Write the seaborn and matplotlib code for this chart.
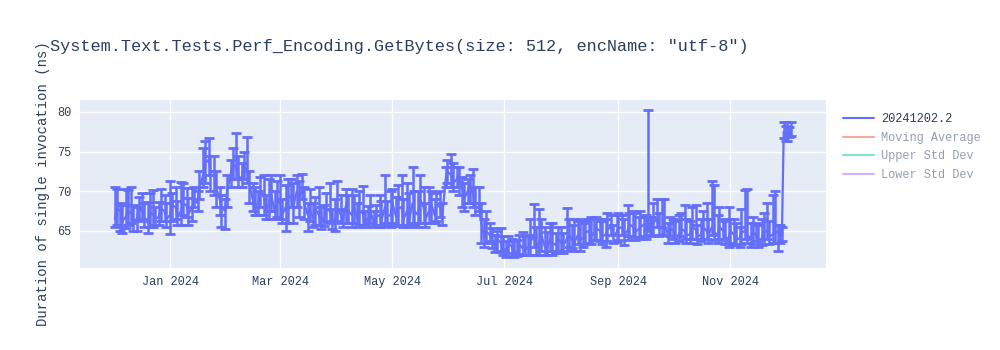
import matplotlib
matplotlib.use("Agg")
import matplotlib.pyplot as plt
import matplotlib.dates as mdates
from matplotlib.lines import Line2D
import seaborn as sns
import pandas as pd

# main readings
dates = [
    "2023-12-02", "2023-12-05", "2023-12-08", "2023-12-11", "2023-12-14", "2023-12-17",
    "2023-12-20", "2023-12-23", "2023-12-26", "2023-12-29", "2024-01-01", "2024-01-04",
    "2024-01-07", "2024-01-10", "2024-01-13", "2024-01-16", "2024-01-19", "2024-01-22",
    "2024-01-25", "2024-01-28", "2024-01-31", "2024-02-03", "2024-02-06", "2024-02-09",
    "2024-02-12", "2024-02-15", "2024-02-18", "2024-02-21", "2024-02-24", "2024-02-27",
    "2024-03-01", "2024-03-04", "2024-03-07", "2024-03-10", "2024-03-13", "2024-03-16",
    "2024-03-19", "2024-03-22", "2024-03-25", "2024-03-28", "2024-03-31", "2024-04-03",
    "2024-04-06", "2024-04-09", "2024-04-12", "2024-04-15", "2024-04-18", "2024-04-21",
    "2024-04-24", "2024-04-27", "2024-04-30", "2024-05-03", "2024-05-06", "2024-05-09",
    "2024-05-12", "2024-05-15", "2024-05-18", "2024-05-21", "2024-05-24", "2024-05-27",
    "2024-05-30", "2024-06-02", "2024-06-05", "2024-06-08", "2024-06-11", "2024-06-14",
    "2024-06-17", "2024-06-20", "2024-06-23", "2024-06-26", "2024-06-29", "2024-07-02",
    "2024-07-05", "2024-07-08", "2024-07-11", "2024-07-14", "2024-07-17", "2024-07-20",
    "2024-07-23", "2024-07-26", "2024-07-29", "2024-08-01", "2024-08-04", "2024-08-07",
    "2024-08-10", "2024-08-13", "2024-08-16", "2024-08-19", "2024-08-22", "2024-08-25",
    "2024-08-28", "2024-08-31", "2024-09-03", "2024-09-06", "2024-09-09", "2024-09-12",
    "2024-09-15", "2024-09-17", "2024-09-19", "2024-09-22", "2024-09-25", "2024-09-28",
    "2024-10-01", "2024-10-04", "2024-10-07", "2024-10-10", "2024-10-13", "2024-10-16",
    "2024-10-19", "2024-10-22", "2024-10-25", "2024-10-28", "2024-10-31", "2024-11-03",
    "2024-11-06", "2024-11-09", "2024-11-12", "2024-11-15", "2024-11-18", "2024-11-21",
    "2024-11-24", "2024-11-27", "2024-11-29", "2024-11-30", "2024-12-02", "2024-12-04",
]
durations = [
    66.5, 67.5, 66.8, 67.2, 66.5, 67.5,
    66.0, 67.0, 66.8, 67.5, 67.0, 68.0,
    67.5, 68.2, 67.8, 68.5, 72.0, 74.0,
    72.5, 69.0, 67.5, 72.0, 73.0, 71.5,
    72.5, 69.0, 68.5, 69.5, 68.5, 67.5,
    68.5, 68.0, 69.5, 70.0, 70.5, 67.0,
    66.5, 67.0, 66.8, 67.5, 66.5, 67.0,
    68.5, 67.0, 66.5, 67.2, 66.6, 66.0,
    67.0, 68.0, 67.0, 66.8, 68.0, 67.5,
    68.5, 67.0, 68.0, 67.5, 67.0, 68.0,
    71.5, 72.0, 71.5, 70.5, 70.0, 69.5,
    68.5, 64.0, 64.5, 63.0, 63.5, 62.5,
    63.0, 62.3, 62.8, 63.0, 64.5, 63.5,
    63.0, 64.0, 63.2, 63.5, 64.0, 63.8,
    64.5, 64.0, 65.0, 64.8, 65.0, 64.5,
    65.5, 64.8, 65.5, 65.0, 65.5, 65.2,
    65.8, 66.0, 65.5, 66.5, 65.5, 64.5,
    65.0, 64.5, 65.0, 64.5, 65.2, 64.5,
    65.0, 65.5, 64.5, 65.0, 64.0, 64.5,
    64.0, 65.0, 64.0, 64.5, 64.0, 65.0,
    64.5, 64.8, 64.5, 77.5, 77.0, 77.5,
]
err_upper = [
    4.0, 1.0, 3.5, 3.3, 1.5, 2.3,
    2.7, 3.2, 1.8, 2.0, 4.3, 2.5,
    3.7, 2.2, 2.6, 1.5, 3.5, 2.7,
    2.0, 1.5, 1.5, 2.0, 4.3, 2.0,
    4.4, 2.0, 1.5, 2.5, 3.0, 2.5,
    3.5, 2.8, 2.0, 2.0, 1.7, 1.5,
    2.0, 3.5, 1.5, 3.5, 2.5, 2.5,
    1.8, 3.3, 2.0, 3.5, 1.5, 1.5,
    2.5, 4.0, 3.0, 2.5, 4.0, 3.5,
    4.6, 3.0, 2.5, 3.0, 2.0, 2.0,
    1.5, 2.7, 1.5, 1.3, 1.5, 3.3,
    2.0, 2.5, 1.5, 1.5, 1.8, 1.2,
    1.0, 1.5, 2.0, 1.5, 3.9, 4.3,
    2.5, 2.0, 1.5, 2.0, 3.9, 2.0,
    1.7, 2.0, 1.5, 1.8, 1.5, 2.0,
    1.5, 2.2, 1.5, 3.3, 2.0, 1.5,
    1.0, 14.2, 1.3, 2.5, 3.5, 1.5,
    1.5, 2.5, 3.3, 1.8, 3.0, 2.0,
    3.5, 5.8, 2.5, 1.5, 4.0, 2.0,
    1.5, 5.2, 2.0, 1.5, 2.5, 3.5,
    5.0, 1.0, 1.0, 1.2, 1.7, 1.2,
]
err_lower = [
    1.0, 2.5, 1.5, 1.2, 1.5, 1.0,
    1.3, 1.5, 1.0, 1.2, 2.4, 1.5,
    1.8, 1.5, 1.6, 1.0, 1.5, 2.0,
    3.0, 2.0, 2.3, 1.5, 1.5, 1.0,
    1.5, 1.5, 1.5, 2.5, 2.0, 1.0,
    2.0, 3.0, 1.5, 2.0, 1.5, 2.0,
    1.0, 1.3, 1.2, 1.5, 1.5, 1.0,
    2.5, 1.5, 1.0, 1.4, 1.0, 0.5,
    1.5, 2.0, 1.5, 1.2, 2.3, 1.8,
    2.5, 1.5, 2.0, 1.5, 1.0, 1.3,
    1.0, 1.5, 1.0, 2.5, 1.5, 1.5,
    1.0, 1.0, 0.8, 0.7, 1.2, 0.8,
    1.2, 0.5, 0.8, 1.0, 1.5, 1.5,
    1.0, 1.5, 1.0, 1.2, 1.5, 1.0,
    1.2, 1.0, 1.5, 1.0, 1.3, 1.5,
    1.0, 1.2, 1.0, 1.2, 1.3, 1.0,
    1.5, 1.0, 1.0, 1.0, 1.0, 1.0,
    1.0, 0.8, 1.0, 1.0, 1.2, 0.8,
    1.0, 1.0, 1.0, 1.2, 1.0, 1.3,
    1.0, 1.0, 1.0, 0.8, 0.8, 1.0,
    1.0, 2.3, 0.8, 0.8, 0.6, 0.5,
]

# additional in-between readings
dates_b = [
    "2023-12-03", "2023-12-06", "2023-12-09", "2023-12-12", "2023-12-15", "2023-12-18",
    "2023-12-21", "2023-12-24", "2023-12-27", "2023-12-30", "2024-01-02", "2024-01-05",
    "2024-01-08", "2024-01-11", "2024-01-14", "2024-01-17", "2024-01-20", "2024-01-23",
    "2024-01-26", "2024-01-29", "2024-02-01", "2024-02-04", "2024-02-07", "2024-02-10",
    "2024-02-13", "2024-02-16", "2024-02-19", "2024-02-22", "2024-02-25", "2024-02-28",
    "2024-03-02", "2024-03-05", "2024-03-08", "2024-03-11", "2024-03-14", "2024-03-17",
    "2024-03-20", "2024-03-23", "2024-03-26", "2024-03-29", "2024-04-01", "2024-04-04",
    "2024-04-07", "2024-04-10", "2024-04-13", "2024-04-16", "2024-04-19", "2024-04-22",
    "2024-04-25", "2024-04-28", "2024-05-01", "2024-05-04", "2024-05-07", "2024-05-10",
    "2024-05-13", "2024-05-16", "2024-05-19", "2024-05-22", "2024-05-25", "2024-05-28",
    "2024-05-31", "2024-06-03", "2024-06-06", "2024-06-09", "2024-06-12", "2024-06-15",
    "2024-06-18", "2024-06-21", "2024-06-24", "2024-06-27", "2024-06-30", "2024-07-03",
    "2024-07-06", "2024-07-09", "2024-07-12", "2024-07-15", "2024-07-18", "2024-07-21",
    "2024-07-24", "2024-07-27", "2024-07-30", "2024-08-02", "2024-08-05", "2024-08-08",
    "2024-08-11", "2024-08-14", "2024-08-17", "2024-08-20", "2024-08-23", "2024-08-26",
    "2024-08-29", "2024-09-01", "2024-09-04", "2024-09-07", "2024-09-10", "2024-09-13",
    "2024-09-16", "2024-09-18", "2024-09-20", "2024-09-23", "2024-09-26", "2024-09-29",
    "2024-10-02", "2024-10-05", "2024-10-08", "2024-10-11", "2024-10-14", "2024-10-17",
    "2024-10-20", "2024-10-23", "2024-10-26", "2024-10-29", "2024-11-01", "2024-11-04",
    "2024-11-07", "2024-11-10", "2024-11-13", "2024-11-16", "2024-11-19", "2024-11-22",
    "2024-11-25", "2024-11-28", "2024-12-01", "2024-12-03",
]
durations_b = [
    67.8, 66.2, 67.5, 66.3, 67.8, 66.5,
    67.3, 66.5, 67.8, 66.5, 68.3, 66.8,
    68.5, 67.2, 69.0, 70.5, 73.5, 72.5,
    70.5, 68.0, 70.0, 73.5, 72.0, 73.5,
    71.0, 68.0, 70.0, 67.5, 69.5, 68.8,
    67.0, 69.0, 68.0, 68.8, 68.5, 67.8,
    67.8, 66.0, 67.8, 66.2, 67.8, 66.3,
    67.5, 68.0, 67.5, 66.0, 67.5, 66.8,
    66.3, 66.8, 68.5, 67.8, 66.5, 66.3,
    67.5, 69.0, 66.5, 68.5, 68.3, 66.5,
    72.5, 71.0, 72.0, 69.0, 71.0, 68.5,
    66.5, 65.0, 63.8, 64.0, 62.8, 63.5,
    62.2, 63.3, 62.5, 63.5, 63.0, 64.5,
    62.8, 63.5, 64.0, 63.2, 64.5, 63.5,
    64.0, 64.8, 64.3, 65.3, 64.3, 65.2,
    64.3, 65.3, 64.5, 65.8, 64.8, 65.5,
    65.0, 65.8, 66.0, 65.3, 66.0, 65.3,
    64.3, 65.3, 64.5, 65.5, 64.3, 65.5,
    64.5, 64.8, 65.5, 64.2, 65.0, 64.0,
    64.8, 64.5, 64.8, 63.8, 64.8, 64.3,
    65.0, 64.3, 77.0, 77.3,
]
err_upper_b = [
    2.5, 2.0, 2.7, 2.0, 1.5, 2.0,
    2.5, 1.5, 2.5, 2.0, 1.5, 2.0,
    2.5, 2.0, 1.5, 2.0, 2.8, 2.0,
    2.0, 1.5, 2.0, 2.0, 2.5, 1.5,
    1.5, 2.5, 1.8, 2.0, 2.5, 2.5,
    2.0, 2.5, 3.0, 2.5, 2.0, 2.5,
    1.5, 2.0, 2.0, 1.5, 3.5, 1.5,
    2.0, 1.5, 2.5, 1.5, 2.0, 1.5,
    2.5, 2.0, 1.8, 3.0, 2.5, 3.5,
    2.5, 3.0, 2.0, 1.5, 1.5, 2.0,
    1.5, 2.5, 1.0, 2.0, 1.0, 2.0,
    2.0, 2.5, 1.5, 1.0, 1.5, 0.8,
    1.5, 1.2, 1.8, 3.0, 2.5, 2.0,
    2.0, 2.5, 1.5, 1.5, 2.0, 3.0,
    2.5, 1.5, 2.5, 1.5, 2.0, 2.0,
    1.5, 2.0, 2.0, 1.5, 2.5, 2.0,
    2.0, 1.0, 2.5, 2.0, 3.0, 1.5,
    2.0, 2.0, 2.0, 2.5, 1.5, 2.0,
    2.0, 6.0, 2.5, 2.0, 1.5, 2.0,
    3.0, 5.8, 2.0, 2.0, 2.5, 2.0,
    5.0, 1.5, 1.2, 0.8,
]
err_lower_b = [
    2.0, 1.5, 1.8, 1.3, 1.5, 1.0,
    1.8, 0.8, 1.5, 1.0, 2.0, 1.0,
    1.5, 1.5, 1.0, 1.5, 2.5, 2.5,
    2.5, 2.5, 2.0, 2.0, 1.5, 2.0,
    2.5, 1.0, 2.0, 1.0, 2.0, 2.0,
    1.0, 3.0, 2.0, 2.0, 2.0, 1.5,
    2.0, 0.8, 1.5, 1.0, 1.5, 0.8,
    1.5, 2.0, 1.8, 0.5, 1.5, 1.0,
    0.8, 1.0, 2.5, 2.0, 1.0, 0.8,
    1.8, 3.0, 1.0, 2.5, 2.0, 0.8,
    1.5, 1.0, 2.5, 1.5, 2.5, 1.5,
    3.0, 1.5, 1.0, 1.5, 0.8, 1.3,
    0.5, 1.2, 0.6, 1.5, 1.0, 2.0,
    0.8, 1.5, 1.5, 1.0, 1.5, 1.0,
    1.5, 1.5, 1.0, 1.5, 1.0, 1.5,
    0.8, 1.5, 1.3, 1.5, 1.0, 1.5,
    1.0, 1.5, 1.5, 1.0, 1.5, 1.0,
    0.8, 1.0, 1.0, 1.5, 1.0, 1.5,
    1.0, 1.0, 1.5, 0.8, 1.5, 0.8,
    1.5, 1.0, 1.5, 0.8, 1.5, 1.0,
    1.5, 0.8, 0.6, 0.5,
]

legend_names = ["20241202.2", "Moving Average", "Upper Std Dev", "Lower Std Dev"]
legend_colors = ["#636efa", "#EF553B", "#00cc96", "#ab63fa"]
title = 'System.Text.Tests.Perf_Encoding.GetBytes(size: 512, encName: "utf-8")'
ylabel = "Duration of single invocation (ns)"
yticks = [65, 70, 75, 80]

df = pd.concat([
    pd.DataFrame({"date": pd.to_datetime(dates), "duration": durations,
                  "up": err_upper, "dn": err_lower}),
    pd.DataFrame({"date": pd.to_datetime(dates_b), "duration": durations_b,
                  "up": err_upper_b, "dn": err_lower_b}),
]).sort_values("date").reset_index(drop=True)

sns.set_style("darkgrid", {"axes.facecolor": "#E5ECF6", "grid.color": "white",
                           "axes.edgecolor": "#E5ECF6"})
plt.rcParams["font.family"] = ["Liberation Mono", "DejaVu Sans Mono"]

fig = plt.figure(figsize=(10, 3.5), dpi=100)
ax = fig.add_axes([0.08, 0.234, 0.746, 0.48])

main_color = legend_colors[0]
ax.errorbar(df["date"], df["duration"], yerr=[df["dn"], df["up"]], fmt="none",
            ecolor=main_color, elinewidth=1.8, capsize=3.6, capthick=2.0, zorder=2)
sns.lineplot(data=df, x="date", y="duration", ax=ax, color=main_color,
             linewidth=1.6, zorder=3, legend=False)

ax.set_xlim(pd.Timestamp("2023-11-13"), pd.Timestamp("2024-12-23"))
ax.set_ylim(60.3, 81.5)
ax.set_yticks(yticks)
ax.xaxis.set_major_locator(mdates.MonthLocator(bymonth=[1, 3, 5, 7, 9, 11]))
ax.xaxis.set_major_formatter(mdates.DateFormatter("%b %Y"))
ax.grid(True, color="white", linewidth=1)
ax.tick_params(axis="both", length=0, labelsize=8.6, colors="#2a3f5f", pad=6)
ax.set_xlabel("")
ax.set_ylabel("")
for s in ax.spines.values():
    s.set_visible(False)

fig.text(0.05, 0.866, title, fontsize=12.2, color="#2a3f5f", va="center", ha="left")
fig.text(0.043, 0.474, ylabel, fontsize=10, color="#2a3f5f", rotation=90,
         va="center", ha="center")

handles = []
for i, (n, c) in enumerate(zip(legend_names, legend_colors)):
    handles.append(Line2D([0], [0], color=c, linewidth=1.5, alpha=1.0 if i == 0 else 0.5))
leg = fig.legend(handles, legend_names, loc="upper left", bbox_to_anchor=(0.838, 0.69),
                 frameon=False, fontsize=8.6, handlelength=2.6, labelspacing=0.55,
                 handletextpad=0.6, borderaxespad=0)
for i, t in enumerate(leg.get_texts()):
    t.set_color("#2a3f5f")
    if i > 0:
        t.set_alpha(0.5)

fig.savefig("out.png", dpi=100)
